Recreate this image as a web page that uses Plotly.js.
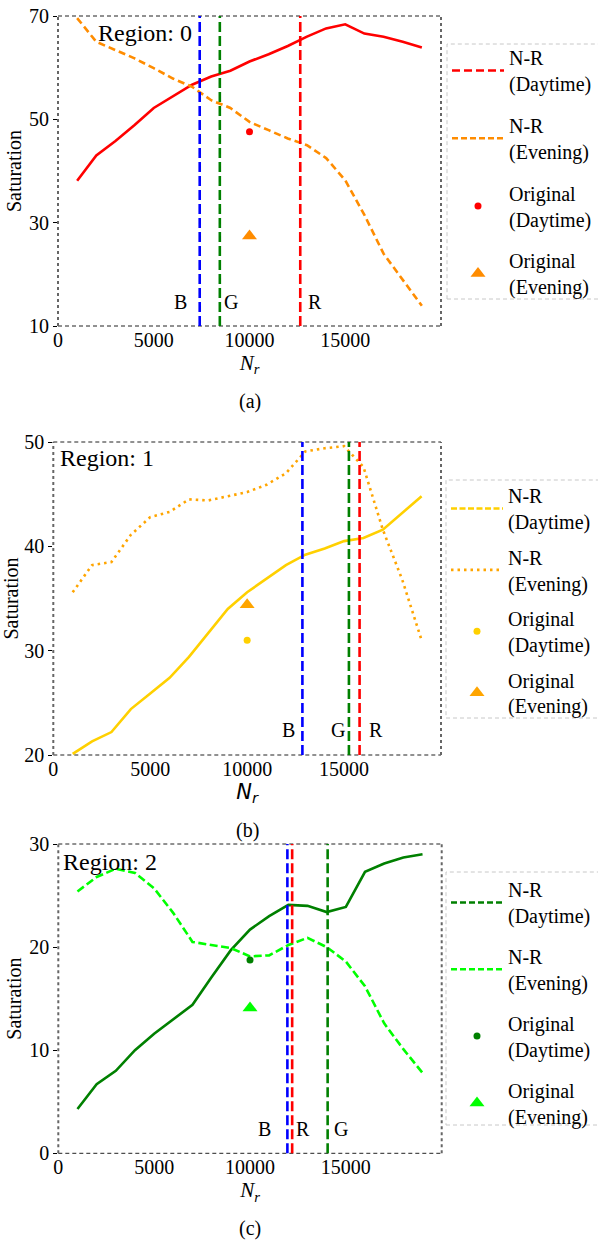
<!DOCTYPE html>
<html><head><meta charset="utf-8">
<script src="https://cdn.plot.ly/plotly-3.0.1.min.js"></script>
<style>
html,body{margin:0;padding:0;background:#fff}
#chart svg text{font-family:"Liberation Serif",serif !important;}
#chart svg .g-x2title text{font-family:"DejaVu Sans",sans-serif !important;}
</style>
</head><body>
<div id="chart" style="width:598px;height:1240px"></div>
<script>
// ---------------- data ----------------
const Nr = [1000,2000,3000,4000,5000,6000,7000,8000,9000,10000,11000,12000,13000,14000,15000,16000,17000,18000,19000];
const origX = [10000];
const bandNames = ['B','G','R'];

// Region 0
const r0DayNR = [38.1,43.0,45.8,48.9,52.2,54.4,56.7,58.3,59.4,61.2,62.6,64.2,66.0,67.6,68.4,66.6,66.0,65.0,63.9];
const r0EveNR = [69.6,65.0,63.4,61.8,59.9,57.9,56.3,53.7,52.2,49.5,47.9,46.3,45.0,42.5,38.2,31.5,24.0,18.9,13.9];
const r0OrigDay = [47.6];
const r0OrigEve = [27.4];
const r0Bands = [7400, 8450, 12650];   // B, G, R

// Region 1
const r1DayNR = [20.1,21.3,22.2,24.4,25.9,27.4,29.4,31.7,34.0,35.6,36.9,38.2,39.2,39.8,40.5,40.8,41.6,43.2,44.8];
const r1EveNR = [35.6,38.2,38.5,41.1,42.8,43.3,44.5,44.4,44.8,45.2,45.9,47.0,49.1,49.4,49.6,47.6,41.6,36.8,31.0];
const r1OrigDay = [31.0];
const r1OrigEve = [34.4];
const r1Bands = [12850, 15250, 15800]; // B, G, R

// Region 2
const r2DayNR = [4.3,6.7,8.0,10.0,11.6,13.0,14.4,17.1,19.7,21.7,23.0,24.1,24.0,23.4,23.9,27.3,28.1,28.7,29.0];
const r2EveNR = [25.4,26.8,27.6,27.2,25.7,23.3,20.5,20.2,19.9,19.1,19.2,20.2,20.9,20.0,18.6,16.2,12.6,10.1,7.8];
const r2OrigDay = [18.75];
const r2OrigEve = [14.1];
const r2Bands = [11950, 14050, 12200]; // B, G, R

const yTicks0 = [10,30,50,70];
const yTicks1 = [20,30,40,50];
const yTicks2 = [0,10,20,30];
const xTicks = [0,5000,10000,15000];

// ---------------- styling / layout ----------------
const FONT = 'Liberation Serif';
const W = 598, H = 1240;
const PX = v => v / W;
const PY = v => 1 - v / H;

const panels = [
  {region:'Region: 0', caption:'(a)', day:r0DayNR, eve:r0EveNR, od:r0OrigDay, oe:r0OrigEve, bands:r0Bands,
   yr:[10,70], yt:yTicks0, cDay:'#ff0000', cEve:'#ff8c00', cOD:'#ff0000', cOE:'#ff8c00',
   eveDash:'7px,4px', legDayDash:'8px,4px', legEveDash:'6px,3px',
   box:{l:58,r:441,t:16,b:326}, regionX:96, regionY:33, xTitleFont:FONT,
   leg:{l:447,t:44,b:299}, legTop:38, gap:12.7,
   lab:[{a:'right',s:-11},{a:'left',s:2},{a:'left',s:6}], labY:302},
  {region:'Region: 1', caption:'(b)', day:r1DayNR, eve:r1EveNR, od:r1OrigDay, oe:r1OrigEve, bands:r1Bands,
   yr:[20,50], yt:yTicks1, cDay:'#ffd000', cEve:'#ffa500', cOD:'#ffd000', cOE:'#ffa500',
   eveDash:'2.5px,4px', legDayDash:'6px,2.5px', legEveDash:'2.5px,4px',
   box:{l:53.3,r:441,t:442,b:755}, regionX:58, regionY:458, xTitleFont:'DejaVu Sans',
   leg:{l:446,t:480,b:718}, legTop:476, gap:6.4,
   lab:[{a:'right',s:-5},{a:'right',s:-2},{a:'left',s:7}], labY:730},
  {region:'Region: 2', caption:'(c)', day:r2DayNR, eve:r2EveNR, od:r2OrigDay, oe:r2OrigEve, bands:r2Bands,
   yr:[0,30], yt:yTicks2, cDay:'#008000', cEve:'#00ff00', cOD:'#008000', cOE:'#00ff00',
   eveDash:'8px,3.5px', legDayDash:'6px,3px', legEveDash:'6px,3px',
   box:{l:58.3,r:441.7,t:844,b:1153.3}, regionX:61, regionY:862, xTitleFont:FONT,
   leg:{l:446,t:872,b:1125}, legTop:870, gap:11.8,
   lab:[{a:'right',s:-14},{a:'left',s:4},{a:'left',s:2}], labY:1129}
];
const bandColors = ['#0000ff','#008000','#ff0000'];

const traces = [];
const shapes = [];
const annotations = [];
const layout = {
  width: W, height: H,
  margin: {l:0, r:0, t:0, b:0},
  paper_bgcolor: '#ffffff', plot_bgcolor: '#ffffff',
  font: {family: FONT, size: 20, color: '#000'},
  showlegend: true
};

panels.forEach((p, i) => {
  const n = i === 0 ? '' : String(i + 1);
  const xa = 'x' + n, ya = 'y' + n;
  const legId = 'legend' + n;

  layout['xaxis' + n] = {
    domain: [PX(p.box.l), PX(p.box.r)], anchor: ya,
    range: [0, 20000], tickvals: xTicks, ticktext: xTicks.map(String),
    showgrid: false, zeroline: false, showline: false, ticks: '',
    tickfont: {family: FONT, size: 20, color: '#000'},
    title: {text: '<i>N</i><sub><i>r</i></sub>', font: {family: p.xTitleFont, size: 21, color: '#000'}, standoff: 4}
  };
  layout['yaxis' + n] = {
    domain: [PY(p.box.b), PY(p.box.t)], anchor: xa,
    range: p.yr, tickvals: p.yt, ticktext: p.yt.map(String),
    showgrid: false, zeroline: false, showline: false,
    ticks: 'outside', ticklen: 4, tickwidth: 1, tickcolor: '#000',
    tickfont: {family: FONT, size: 20, color: '#000'},
    title: {text: 'Saturation', font: {family: FONT, size: 20, color: '#000'}, standoff: 2}
  };
  layout[legId] = {
    x: PX(p.leg.l), xanchor: 'left', y: PY(p.legTop), yanchor: 'top',
    bgcolor: 'rgba(0,0,0,0)', borderwidth: 0,
    font: {family: FONT, size: 20, color: '#000'},
    tracegroupgap: p.gap, itemwidth: 52, traceorder: 'grouped', valign: 'middle'
  };

  // plotted lines
  traces.push({x: Nr, y: p.day, xaxis: xa, yaxis: ya, type: 'scatter', mode: 'lines',
    line: {color: p.cDay, width: 2.6}, showlegend: false, hoverinfo: 'skip'});
  traces.push({x: Nr, y: p.eve, xaxis: xa, yaxis: ya, type: 'scatter', mode: 'lines',
    line: {color: p.cEve, width: 2.6, dash: p.eveDash}, showlegend: false, hoverinfo: 'skip'});
  // legend entries for N-R series
  traces.push({x: [null], y: [null], xaxis: xa, yaxis: ya, type: 'scatter', mode: 'lines',
    name: 'N-R<br>(Daytime)', legend: legId, legendgroup: 'g1' + i,
    line: {color: p.cDay, width: 2.6, dash: p.legDayDash}});
  traces.push({x: [null], y: [null], xaxis: xa, yaxis: ya, type: 'scatter', mode: 'lines',
    name: 'N-R<br>(Evening)', legend: legId, legendgroup: 'g2' + i,
    line: {color: p.cEve, width: 2.6, dash: p.legEveDash}});
  // originals
  traces.push({x: origX, y: p.od, xaxis: xa, yaxis: ya, type: 'scatter', mode: 'markers',
    name: 'Original<br>(Daytime)', legend: legId, legendgroup: 'g3' + i,
    marker: {color: p.cOD, size: 7, symbol: 'circle'}});
  traces.push({x: origX, y: p.oe, xaxis: xa, yaxis: ya, type: 'scatter', mode: 'markers',
    name: 'Original<br>(Evening)', legend: legId, legendgroup: 'g4' + i,
    marker: {color: p.cOE, size: 13, symbol: 'triangle-up'}});

  // frame
  const xd = xa + ' domain', yd = ya + ' domain';
  shapes.push({type:'line', xref:xd, yref:yd, x0:0, x1:1, y0:1, y1:1, line:{color:'#222', width:1, dash:'4px,3px'}});
  shapes.push({type:'line', xref:xd, yref:yd, x0:0, x1:1, y0:0, y1:0, line:{color:'#222', width:1, dash:'4px,3px'}});
  shapes.push({type:'line', xref:xd, yref:yd, x0:0, x1:0, y0:0, y1:1, line:{color:'#666', width:2, dash:'3px,3px'}});
  shapes.push({type:'line', xref:xd, yref:yd, x0:1, x1:1, y0:0, y1:1, line:{color:'#666', width:2, dash:'3px,3px'}});

  // band lines + labels
  p.bands.forEach((b, k) => {
    shapes.push({type:'line', xref:xa, yref:yd, x0:b, x1:b, y0:0, y1:1,
      line:{color: bandColors[k], width: 2.6, dash: '10px,4px'}});
    annotations.push({text: bandNames[k], xref: xa, yref: 'paper', x: b, y: PY(p.labY),
      xanchor: p.lab[k].a, yanchor: 'middle', xshift: p.lab[k].s, showarrow: false,
      font: {family: FONT, size: 20, color: '#000'}});
  });

  // legend dashed box
  shapes.push({type:'rect', xref:'paper', yref:'paper', x0: PX(p.leg.l), x1: 1.05,
    y0: PY(p.leg.b), y1: PY(p.leg.t), line:{color:'#c8c8c8', width:1, dash:'4px,3px'}, fillcolor:'rgba(0,0,0,0)'});

  // region label
  annotations.push({text: p.region, xref:'paper', yref:'paper', x: PX(p.regionX), y: PY(p.regionY),
    xanchor:'left', yanchor:'middle', showarrow:false, font:{family: FONT, size: 24, color:'#000'}});
  // caption
  annotations.push({text: p.caption, xref:'paper', yref:'paper', x: PX((p.box.l + p.box.r) / 2),
    y: PY(p.box.b + 75), xanchor:'center', yanchor:'middle', showarrow:false,
    font:{family: FONT, size: 20, color:'#000'}});
});

layout.shapes = shapes;
layout.annotations = annotations;

Plotly.newPlot('chart', traces, layout, {staticPlot: true, displayModeBar: false});
</script>
</body></html>
